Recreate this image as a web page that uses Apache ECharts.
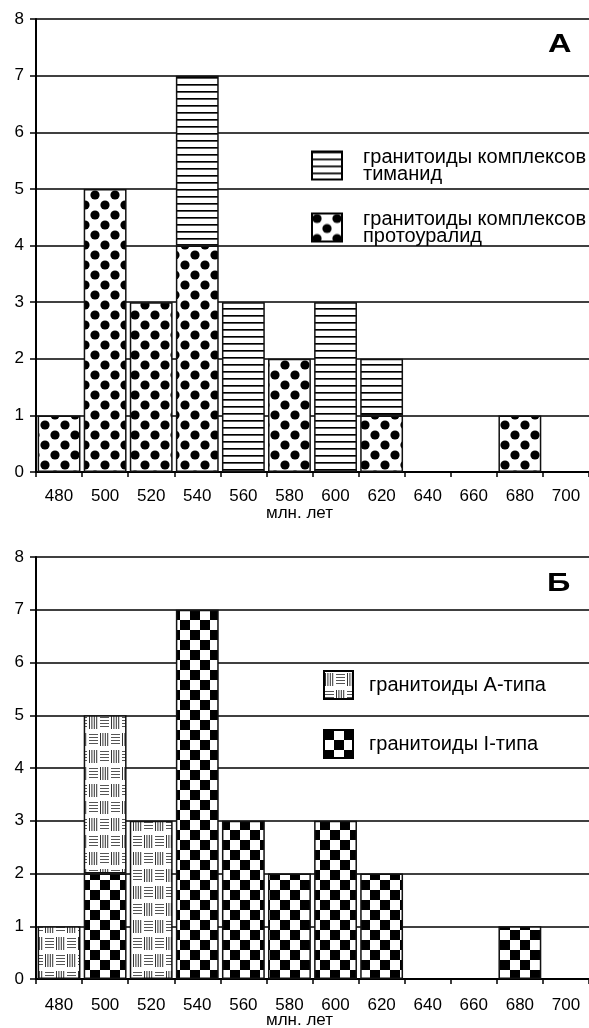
<!DOCTYPE html>
<html>
<head>
<meta charset="utf-8">
<script src="https://cdn.jsdelivr.net/npm/echarts@6/dist/echarts.min.js"></script>
<style>
  html, body { margin: 0; padding: 0; background: #fff; }
  #chart { width: 589px; height: 1028px; }
</style>
</head>
<body>
<div id="chart"></div>
<script>
// Age bins, million years
const ages = ['480', '500', '520', '540', '560', '580', '600', '620', '640', '660', '680', '700'];

// Panel А: granitoid complexes
const protouralid = [1, 5, 3, 4, null, 2, null, 1, null, null, 1, null];
const timanid     = [null, null, null, 3, 3, null, 3, 1, null, null, null, null];

// Panel Б: granitoid types
const typeI = [null, 2, null, 7, 3, 2, 3, 2, null, null, 1, null];
const typeA = [1, 3, 3, null, null, null, null, null, null, null, null, null];

const yTicks = [0, 1, 2, 3, 4, 5, 6, 7, 8];

const FONT = '"Liberation Sans", Arial, sans-serif';

// ---- fill patterns ----
function tile(w, h, draw) {
  const c = document.createElement('canvas');
  c.width = w; c.height = h;
  const g = c.getContext('2d');
  g.fillStyle = '#fff';
  g.fillRect(0, 0, w, h);
  draw(g);
  return { image: c, repeat: 'repeat' };
}

const dotFill = tile(20, 20, g => {
  g.fillStyle = '#000';
  [[5, 5], [15, 15]].forEach(([x, y]) => {
    g.beginPath(); g.arc(x, y, 4.6, 0, Math.PI * 2); g.fill();
  });
});

const hatchFill = tile(4, 7, g => {
  g.fillStyle = '#000';
  g.fillRect(0, 0, 4, 1);
  g.fillStyle = '#555';
  g.fillRect(0, 1, 4, 1);
});

const checkerFill = tile(20, 20, g => {
  g.fillStyle = '#000';
  g.fillRect(0, 0, 10, 10);
  g.fillRect(10, 10, 10, 10);
});

const weaveFill = tile(22, 34, g => {
  function vBlock(x0, y0) {
    g.fillStyle = '#333';
    for (let i = 0; i < 4; i++) g.fillRect(x0 + 1 + i * 2.4, y0 + 2, 1, 13);
  }
  function hBlock(x0, y0) {
    g.fillStyle = '#555';
    for (let i = 0; i < 4; i++) g.fillRect(x0 + 1, y0 + 3 + i * 3, 9, 1);
  }
  vBlock(0, 0);  hBlock(11, 0);
  hBlock(0, 17); vBlock(11, 17);
});

// ---- shared axis styling ----
function xAxisFor(gridIndex, margin) {
  return {
    type: 'category', gridIndex, data: ages,
    axisLine: { lineStyle: { color: '#000', width: 2 } },
    axisTick: { show: true, length: 5, lineStyle: { color: '#000', width: 1.5 } },
    axisLabel: { interval: 0, color: '#000', fontSize: 17, fontFamily: FONT, margin },
    splitLine: { show: false }
  };
}
function yAxisFor(gridIndex) {
  return {
    type: 'value', gridIndex, min: yTicks[0], max: yTicks[yTicks.length - 1], interval: 1,
    axisLine: { show: true, lineStyle: { color: '#000', width: 2 } },
    axisTick: { show: true, length: 6, lineStyle: { color: '#000', width: 1.5 } },
    axisLabel: { color: '#000', fontSize: 17, fontFamily: FONT, margin: 12 },
    splitLine: { show: true, lineStyle: { color: '#000', width: 1.5 } }
  };
}
function barSeries(name, data, fill, xi) {
  return {
    name, type: 'bar', stack: 'p' + xi, xAxisIndex: xi, yAxisIndex: xi,
    data, barWidth: '93%',
    itemStyle: { color: fill, borderColor: '#111', borderWidth: 1.5 },
    emphasis: { disabled: true }
  };
}

// Wide bold panel letter
function panelLetter(text, x, y) {
  return {
    type: 'text', x, y, scaleX: 1.3,
    style: { text, fontSize: 25, fontWeight: 'bold', fontFamily: FONT, fill: '#000',
             textAlign: 'left', textVerticalAlign: 'top' }
  };
}

const nameA1 = 'гранитоиды комплексов\nтиманид';
const nameA2 = 'гранитоиды комплексов\nпротоуралид';
const nameB1 = 'гранитоиды А-типа';
const nameB2 = 'гранитоиды I-типа';

const chart = echarts.init(document.getElementById('chart'), null, { renderer: 'canvas' });
chart.setOption({
  animation: false,
  backgroundColor: '#fff',
  textStyle: { fontFamily: FONT, color: '#000' },
  grid: [
    { left: 36, right: -2, top: 19, height: 453 },
    { left: 36, right: -2, top: 557, height: 422 }
  ],
  xAxis: [xAxisFor(0, 16), xAxisFor(1, 18)],
  yAxis: [yAxisFor(0), yAxisFor(1)],
  legend: [
    {
      orient: 'vertical', left: 311, top: 147, padding: 0,
      itemWidth: 30, itemHeight: 28, itemGap: 25,
      icon: 'rect', data: [nameA1, nameA2], selectedMode: false,
      itemStyle: { borderColor: '#000', borderWidth: 2 },
      textStyle: { fontSize: 20, lineHeight: 17, fontFamily: FONT, color: '#000', padding: [0, 0, 0, 16] }
    },
    {
      orient: 'vertical', left: 323, top: 670, padding: 0,
      itemWidth: 29, itemHeight: 28, itemGap: 29,
      icon: 'rect', data: [nameB1, nameB2], selectedMode: false,
      itemStyle: { borderColor: '#000', borderWidth: 2 },
      textStyle: { fontSize: 20, fontFamily: FONT, color: '#000', padding: [0, 0, 0, 11] }
    }
  ],
  graphic: [
    panelLetter('А', 548, 33),
    panelLetter('Б', 547, 572),
    { type: 'text', left: 266, top: 505, style: { text: 'млн. лет', fontSize: 17, fontFamily: FONT, fill: '#000' } },
    { type: 'text', left: 266, top: 1012, style: { text: 'млн. лет', fontSize: 17, fontFamily: FONT, fill: '#000' } }
  ],
  series: [
    barSeries(nameA2, protouralid, dotFill, 0),
    barSeries(nameA1, timanid, hatchFill, 0),
    barSeries(nameB2, typeI, checkerFill, 1),
    barSeries(nameB1, typeA, weaveFill, 1)
  ]
});
</script>
</body>
</html>
